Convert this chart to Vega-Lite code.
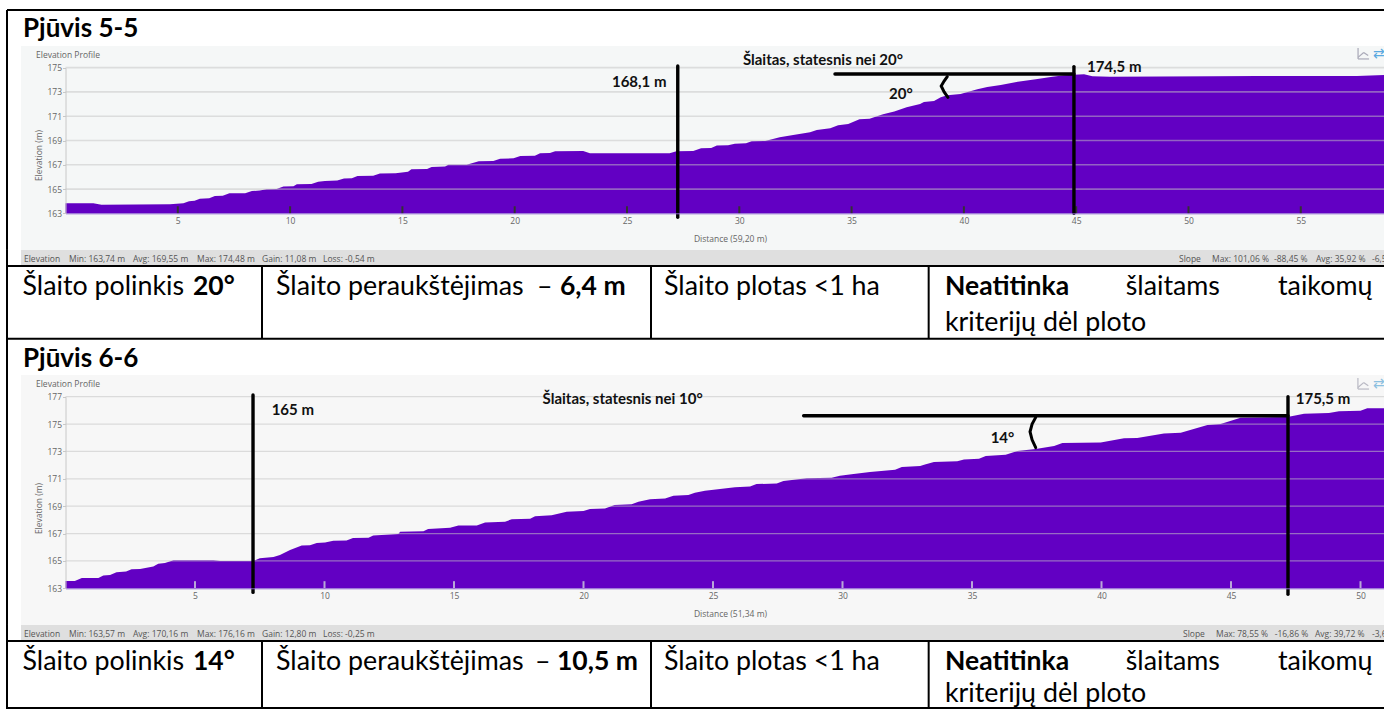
{
"$schema":"https://vega.github.io/schema/vega-lite/v6.json",
"background":"white","padding":0,"spacing":0,"bounds":"flush",
"config":{"view":{"stroke":null},"text":{"font":"Lato"},"axis":{"labelFont":"Open Sans","titleFont":"Open Sans"}},
"datasets":{
"profile1":[{"d":0,"e":163.82},{"d":1.24,"e":163.82},{"d":1.6,"e":163.7},{"d":4.65,"e":163.74},{"d":5.25,"e":163.82},{"d":5.5,"e":164.0},{"d":5.75,"e":164.04},{"d":5.98,"e":164.2},{"d":6.4,"e":164.24},{"d":6.65,"e":164.43},{"d":7.0,"e":164.45},{"d":7.3,"e":164.65},{"d":8.0,"e":164.65},{"d":8.3,"e":164.84},{"d":8.65,"e":164.87},{"d":8.95,"e":164.98},{"d":9.4,"e":165.0},{"d":9.7,"e":165.2},{"d":10.15,"e":165.23},{"d":10.3,"e":165.4},{"d":10.95,"e":165.42},{"d":11.25,"e":165.6},{"d":11.55,"e":165.67},{"d":12.1,"e":165.7},{"d":12.4,"e":165.86},{"d":12.75,"e":165.88},{"d":13.0,"e":166.08},{"d":13.7,"e":166.1},{"d":14.0,"e":166.27},{"d":14.7,"e":166.3},{"d":15.25,"e":166.43},{"d":15.4,"e":166.63},{"d":16.1,"e":166.65},{"d":16.3,"e":166.82},{"d":16.9,"e":166.85},{"d":17.05,"e":167.0},{"d":17.86,"e":167.01},{"d":18.4,"e":167.29},{"d":19.05,"e":167.31},{"d":19.35,"e":167.5},{"d":19.95,"e":167.53},{"d":20.25,"e":167.73},{"d":20.9,"e":167.75},{"d":21.13,"e":167.95},{"d":21.57,"e":167.97},{"d":21.8,"e":168.11},{"d":23.05,"e":168.14},{"d":23.35,"e":167.95},{"d":26.9,"e":167.95},{"d":27.2,"e":168.11},{"d":27.95,"e":168.14},{"d":28.3,"e":168.36},{"d":28.75,"e":168.38},{"d":29.0,"e":168.58},{"d":29.5,"e":168.6},{"d":29.8,"e":168.74},{"d":30.3,"e":168.77},{"d":30.55,"e":168.93},{"d":31.15,"e":168.96},{"d":31.8,"e":169.26},{"d":32.4,"e":169.46},{"d":33.15,"e":169.68},{"d":33.45,"e":169.87},{"d":34.05,"e":170.0},{"d":34.4,"e":170.25},{"d":34.85,"e":170.36},{"d":35.35,"e":170.75},{"d":35.8,"e":170.8},{"d":36.4,"e":171.16},{"d":36.9,"e":171.38},{"d":37.45,"e":171.74},{"d":38.05,"e":172.0},{"d":38.22,"e":172.18},{"d":38.67,"e":172.26},{"d":38.97,"e":172.56},{"d":39.26,"e":172.73},{"d":39.85,"e":172.84},{"d":40.6,"e":173.22},{"d":41.04,"e":173.41},{"d":41.64,"e":173.58},{"d":42.4,"e":173.85},{"d":43.2,"e":174.04},{"d":43.94,"e":174.26},{"d":44.46,"e":174.37},{"d":45.35,"e":174.45},{"d":45.72,"e":174.29},{"d":46.5,"e":174.26},{"d":51.1,"e":174.29},{"d":53.06,"e":174.32},{"d":57.5,"e":174.32},{"d":58.705,"e":174.4}],
"profile2":[{"d":0,"e":163.54},{"d":0.36,"e":163.54},{"d":0.63,"e":163.75},{"d":1.27,"e":163.75},{"d":1.46,"e":163.93},{"d":1.72,"e":163.97},{"d":1.97,"e":164.17},{"d":2.34,"e":164.22},{"d":2.55,"e":164.39},{"d":2.88,"e":164.41},{"d":3.39,"e":164.6},{"d":3.58,"e":164.8},{"d":3.84,"e":164.85},{"d":4.17,"e":165.05},{"d":5.71,"e":165.05},{"d":5.97,"e":165.0},{"d":7.25,"e":165.0},{"d":7.5,"e":165.19},{"d":8.03,"e":165.29},{"d":8.28,"e":165.43},{"d":8.67,"e":165.8},{"d":9.12,"e":166.12},{"d":9.44,"e":166.14},{"d":9.7,"e":166.31},{"d":10.02,"e":166.34},{"d":10.34,"e":166.48},{"d":10.85,"e":166.5},{"d":11.1,"e":166.68},{"d":11.7,"e":166.7},{"d":11.88,"e":166.85},{"d":12.85,"e":166.97},{"d":12.92,"e":167.14},{"d":13.82,"e":167.16},{"d":14.0,"e":167.33},{"d":14.85,"e":167.43},{"d":15.17,"e":167.58},{"d":15.88,"e":167.58},{"d":16.2,"e":167.8},{"d":16.97,"e":167.87},{"d":17.23,"e":168.04},{"d":17.94,"e":168.09},{"d":18.13,"e":168.26},{"d":18.77,"e":168.33},{"d":19.35,"e":168.6},{"d":20.0,"e":168.65},{"d":20.25,"e":168.8},{"d":20.83,"e":168.84},{"d":21.2,"e":169.09},{"d":21.86,"e":169.14},{"d":22.12,"e":169.33},{"d":22.57,"e":169.5},{"d":23.15,"e":169.57},{"d":23.47,"e":169.77},{"d":24.05,"e":169.82},{"d":24.3,"e":169.99},{"d":24.69,"e":170.13},{"d":25.27,"e":170.26},{"d":25.85,"e":170.38},{"d":26.43,"e":170.43},{"d":26.68,"e":170.62},{"d":27.46,"e":170.65},{"d":27.72,"e":170.84},{"d":28.62,"e":171.04},{"d":29.58,"e":171.08},{"d":29.9,"e":171.23},{"d":30.35,"e":171.33},{"d":31.06,"e":171.5},{"d":32.03,"e":171.67},{"d":32.29,"e":171.86},{"d":33.0,"e":171.94},{"d":33.15,"e":172.03},{"d":33.53,"e":172.23},{"d":34.43,"e":172.28},{"d":34.69,"e":172.42},{"d":35.27,"e":172.47},{"d":35.53,"e":172.67},{"d":36.3,"e":172.76},{"d":36.75,"e":173.03},{"d":37.46,"e":173.18},{"d":38.17,"e":173.4},{"d":38.49,"e":173.62},{"d":39.97,"e":173.66},{"d":40.87,"e":173.96},{"d":41.38,"e":173.98},{"d":42.41,"e":174.32},{"d":43.06,"e":174.37},{"d":44.09,"e":174.93},{"d":44.6,"e":175.0},{"d":45.37,"e":175.47},{"d":47.17,"e":175.52},{"d":47.43,"e":175.61},{"d":47.82,"e":175.76},{"d":48.78,"e":175.81},{"d":49.17,"e":175.93},{"d":50.0,"e":175.98},{"d":50.26,"e":176.15},{"d":50.907,"e":176.15}]
},
"vconcat":[
{"width":1384,"height":46,
 "encoding":{"x":{"field":"x","type":"quantitative","axis":null,"scale":{"domain":[0,1038],"range":[0,1384],"nice":false}},
  "y":{"field":"y","type":"quantitative","axis":null,"scale":{"domain":[0,34.5],"range":[0,46],"nice":false}}},
 "layer":[
  {"data":{"values":[{"x":5.25,"x2":1038,"y":7.5,"y2":7.5},{"x":5.25,"x2":5.25,"y":7.5,"y2":34.5}]},"mark":{"type":"rule","strokeWidth":2,"color":"#000"},"encoding":{"x2":{"field":"x2"},"y2":{"field":"y2"}}},
  {"data":{"values":[{"x":17.25,"y":28,"t":"Pjūvis 5-5"}]},"mark":{"type":"text","align":"left","baseline":"alphabetic","fontWeight":"bold","fontSize":26,"color":"#000"},"encoding":{"text":{"field":"t"}}}
 ]},
{"width":1384,"height":204,
 "encoding":{"x":{"field":"d","type":"quantitative","title":"Distance (59,20 m)","scale":{"domain":[0,58.705],"range":[65.5,1384],"nice":false,"zero":false},
   "axis":{"orient":"bottom","offset":-36.7,"values":[5,10,15,20,25,30,35,40,45,50,55],"grid":false,"zindex":1,"domainColor":"#8a5fd0","ticks":false,"labelPadding":3,"labelColor":"#666","labelFontSize":8.5,"format":"d","titleFontSize":8.5,"titleFontWeight":"normal","titleColor":"#666","titleX":730,"titleY":21,"titleAlign":"center"}},
  "y":{"field":"e","type":"quantitative","title":"Elevation (m)","scale":{"domain":[163,175],"range":[167.3,21.7],"nice":false,"zero":false},
   "axis":{"orient":"left","offset":-65.5,"values":[163,165,167,169,171,173,175],"grid":false,"zindex":1,"domainColor":"#c8c8c8","tickColor":"#c8c8c8","tickSize":3,"labelPadding":1,"labelColor":"#666","labelFontSize":8.5,"format":"d","titleFontSize":8.5,"titleFontWeight":"normal","titleColor":"#666","titlePadding":3,"titleY":109}}},
 "layer":[
  {"data":{"values":[{"d":-1.98,"d2":58.705,"e":159.98,"e2":176.79}]},"mark":{"type":"rect","color":"#f5f7f7"},"encoding":{"x2":{"field":"d2"},"y2":{"field":"e2"}}},
  {"data":{"name":"profile1"},"mark":{"type":"area","color":"#6200c3","interpolate":"linear"},"encoding":{"y2":{"datum":163}}},
  {"data":{"values":[{"d":0,"d2":58.705,"e":165,"e2":165},{"d":0,"d2":58.705,"e":167,"e2":167},{"d":0,"d2":58.705,"e":169,"e2":169},{"d":0,"d2":58.705,"e":171,"e2":171},{"d":0,"d2":58.705,"e":173,"e2":173},{"d":0,"d2":58.705,"e":175,"e2":175}]},"mark":{"type":"rule","color":"#c4c4c4","opacity":0.5,"strokeWidth":1.7},"encoding":{"x2":{"field":"d2"},"y2":{"field":"e2"}}},
  {"data":{"values":[{"d":5,"d2":5,"e":163,"e2":163.58},{"d":10,"d2":10,"e":163,"e2":163.58},{"d":15,"d2":15,"e":163,"e2":163.58},{"d":20,"d2":20,"e":163,"e2":163.58},{"d":25,"d2":25,"e":163,"e2":163.58},{"d":30,"d2":30,"e":163,"e2":163.58},{"d":35,"d2":35,"e":163,"e2":163.58},{"d":40,"d2":40,"e":163,"e2":163.58},{"d":45,"d2":45,"e":163,"e2":163.58},{"d":50,"d2":50,"e":163,"e2":163.58},{"d":55,"d2":55,"e":163,"e2":163.58}]},"mark":{"type":"rule","color":"#333","strokeWidth":2},"encoding":{"x2":{"field":"d2"},"y2":{"field":"e2"}}},
  {"data":{"values":[{"d":27.26,"d2":27.26,"e":175.14,"e2":162.67},{"d":44.9,"d2":44.9,"e":175.09,"e2":163},{"d":34.26,"d2":44.9,"e":174.48,"e2":174.48}]},"mark":{"type":"rule","color":"#000","strokeWidth":3.4,"strokeCap":"round"},"encoding":{"x2":{"field":"d2"},"y2":{"field":"e2"}}},
  {"data":{"values":[{"i":1,"d":39.26,"e":174.26},{"i":2,"d":39.12,"e":173.9},{"i":3,"d":38.99,"e":173.49},{"i":4,"d":39.12,"e":173.0},{"i":5,"d":39.29,"e":172.56}]},"mark":{"type":"line","color":"#000","strokeWidth":3,"strokeCap":"round"},"encoding":{"order":{"field":"i","type":"quantitative"}}},
  {"data":{"values":[{"d":24.33,"e":173.85,"t":"168,1 m"},{"d":30.16,"e":175.64,"t":"Šlaitas, statesnis nei 20°"},{"d":36.67,"e":172.8,"t":"20°"},{"d":45.48,"e":175.09,"t":"174,5 m"}]},"mark":{"type":"text","align":"left","baseline":"middle","fontWeight":"bold","fontSize":15,"color":"#111"},"encoding":{"text":{"field":"t"}}},
  {"data":{"values":[{"d":-1.313,"e":176.05,"t":"Elevation Profile"}]},"mark":{"type":"text","align":"left","baseline":"middle","font":"Open Sans","fontSize":8.5,"color":"#666"},"encoding":{"text":{"field":"t"}}},
  {"data":{"values":[{"d":57.55,"d2":57.55,"e":176.63,"e2":175.72},{"d":57.55,"d2":58.04,"e":175.72,"e2":175.72},{"d":57.55,"d2":57.8,"e":175.85,"e2":176.25},{"d":57.8,"d2":58.0,"e":176.25,"e2":176.0}]},"mark":{"type":"rule","color":"#a9a9b8","strokeWidth":1.2},"encoding":{"x2":{"field":"d2"},"y2":{"field":"e2"}}},
  {"data":{"values":[{"d":58.22,"e":176.13,"t":"⇄"}]},"mark":{"type":"text","align":"left","baseline":"middle","font":"DejaVu Sans","fontSize":14,"color":"#5aa9e0"},"encoding":{"text":{"field":"t"}}},
  {"data":{"values":[{"d":-2.605,"d2":-2.605,"e":159.98,"e2":176.79}]},"mark":{"type":"rule","color":"#000","strokeWidth":2},"encoding":{"x2":{"field":"d2"},"y2":{"field":"e2"}}}
 ]},
{"width":1384,"height":125,
 "encoding":{"x":{"field":"x","type":"quantitative","axis":null,"scale":{"domain":[0,1038],"range":[0,1384],"nice":false}},
  "y":{"field":"y","type":"quantitative","axis":null,"scale":{"domain":[0,93.75],"range":[0,125],"nice":false}}},
 "layer":[
  {"data":{"values":[{"x":15.75,"x2":1038,"y":0,"y2":12}]},"mark":{"type":"rect","color":"#dfdfdf"},"encoding":{"x2":{"field":"x2"},"y2":{"field":"y2"}}},
  {"data":{"values":[{"x":5.25,"x2":5.25,"y":0,"y2":93.75},{"x":5.25,"x2":1038,"y":12,"y2":12},{"x":5.25,"x2":1038,"y":66.5,"y2":66.5},{"x":196.5,"x2":196.5,"y":12,"y2":66.5},{"x":488.25,"x2":488.25,"y":12,"y2":66.5},{"x":696.5,"x2":696.5,"y":12,"y2":66.5}]},"mark":{"type":"rule","color":"#000","strokeWidth":2},"encoding":{"x2":{"field":"x2"},"y2":{"field":"y2"}}},
  {"data":{"values":[{"x":18,"y":6.75,"t":"Elevation"},{"x":51.75,"y":6.75,"t":"Min: 163,74 m"},{"x":99.75,"y":6.75,"t":"Avg: 169,55 m"},{"x":147.75,"y":6.75,"t":"Max: 174,48 m"},{"x":196.5,"y":6.75,"t":"Gain: 11,08 m"},{"x":242.25,"y":6.75,"t":"Loss: -0,54 m"},{"x":884.25,"y":6.75,"t":"Slope"},{"x":909,"y":6.75,"t":"Max: 101,06 %"},{"x":955.5,"y":6.75,"t":"-88,45 %"},{"x":987,"y":6.75,"t":"Avg: 35,92 %"},{"x":1029,"y":6.75,"t":"-6,5"}]},"mark":{"type":"text","align":"left","baseline":"middle","font":"Open Sans","fontSize":8.5,"color":"#555"},"encoding":{"text":{"field":"t"}}},
  {"data":{"values":[{"x":16.9,"y":33.75,"t":"Šlaito polinkis"},{"x":207,"y":33.75,"t":"Šlaito peraukštėjimas"},{"x":402.75,"y":33.75,"t":"–"},{"x":498,"y":33.75,"t":"Šlaito plotas <1 ha"},{"x":844.3,"y":33.75,"t":"šlaitams"},{"x":958.5,"y":33.75,"t":"taikomų"},{"x":708.75,"y":60.5,"t":"kriterijų dėl ploto"}]},"mark":{"type":"text","align":"left","baseline":"alphabetic","fontSize":26.8,"color":"#000"},"encoding":{"text":{"field":"t"}}},
  {"data":{"values":[{"x":144.75,"y":33.75,"t":"20°"},{"x":420,"y":33.75,"t":"6,4 m"},{"x":708.75,"y":33.75,"t":"Neatitinka"}]},"mark":{"type":"text","align":"left","baseline":"alphabetic","fontWeight":"bold","fontSize":26.5,"color":"#000"},"encoding":{"text":{"field":"t"}}},
  {"data":{"values":[{"x":17.25,"y":87.75,"t":"Pjūvis 6-6"}]},"mark":{"type":"text","align":"left","baseline":"alphabetic","fontWeight":"bold","fontSize":26,"color":"#000"},"encoding":{"text":{"field":"t"}}}
 ]},
{"width":1384,"height":250,
 "encoding":{"x":{"field":"d","type":"quantitative","title":"Distance (51,34 m)","scale":{"domain":[0,50.907],"range":[65.5,1384],"nice":false,"zero":false},
   "axis":{"orient":"bottom","offset":-36.7,"values":[5,10,15,20,25,30,35,40,45,50],"grid":false,"zindex":1,"domainColor":"#8a5fd0","ticks":false,"labelPadding":3,"labelColor":"#666","labelFontSize":8.5,"format":"d","titleFontSize":8.5,"titleFontWeight":"normal","titleColor":"#666","titleX":730,"titleY":21,"titleAlign":"center"}},
  "y":{"field":"e","type":"quantitative","title":"Elevation (m)","scale":{"domain":[163,177],"range":[213.3,21.7],"nice":false,"zero":false},
   "axis":{"orient":"left","offset":-65.5,"values":[163,165,167,169,171,173,175,177],"grid":false,"zindex":1,"domainColor":"#c8c8c8","tickColor":"#c8c8c8","tickSize":3,"labelPadding":1,"labelColor":"#666","labelFontSize":8.5,"format":"d","titleFontSize":8.5,"titleFontWeight":"normal","titleColor":"#666","titlePadding":3,"titleY":133}}},
 "layer":[
  {"data":{"values":[{"d":-1.718,"d2":50.907,"e":160.32,"e2":178.585}]},"mark":{"type":"rect","color":"#f7f7f7"},"encoding":{"x2":{"field":"d2"},"y2":{"field":"e2"}}},
  {"data":{"name":"profile2"},"mark":{"type":"area","color":"#6200c3","interpolate":"linear"},"encoding":{"y2":{"datum":163}}},
  {"data":{"values":[{"d":0,"d2":50.907,"e":165,"e2":165},{"d":0,"d2":50.907,"e":167,"e2":167},{"d":0,"d2":50.907,"e":169,"e2":169},{"d":0,"d2":50.907,"e":171,"e2":171},{"d":0,"d2":50.907,"e":173,"e2":173},{"d":0,"d2":50.907,"e":175,"e2":175},{"d":0,"d2":50.907,"e":177,"e2":177}]},"mark":{"type":"rule","color":"#c4c4c4","opacity":0.55,"strokeWidth":1.2},"encoding":{"x2":{"field":"d2"},"y2":{"field":"e2"}}},
  {"data":{"values":[{"d":5,"d2":5,"e":163,"e2":163.52},{"d":10,"d2":10,"e":163,"e2":163.52},{"d":15,"d2":15,"e":163,"e2":163.52},{"d":20,"d2":20,"e":163,"e2":163.52},{"d":25,"d2":25,"e":163,"e2":163.52},{"d":30,"d2":30,"e":163,"e2":163.52},{"d":35,"d2":35,"e":163,"e2":163.52},{"d":40,"d2":40,"e":163,"e2":163.52},{"d":45,"d2":45,"e":163,"e2":163.52},{"d":50,"d2":50,"e":163,"e2":163.52}]},"mark":{"type":"rule","color":"#b9a6d8","strokeWidth":2},"encoding":{"x2":{"field":"d2"},"y2":{"field":"e2"}}},
  {"data":{"values":[{"d":7.24,"d2":7.24,"e":177.12,"e2":162.7},{"d":47.2,"d2":47.2,"e":177,"e2":162.56},{"d":28.5,"d2":47.2,"e":175.61,"e2":175.61}]},"mark":{"type":"rule","color":"#000","strokeWidth":3.4,"strokeCap":"round"},"encoding":{"x2":{"field":"d2"},"y2":{"field":"e2"}}},
  {"data":{"values":[{"i":1,"d":37.46,"e":175.49},{"i":2,"d":37.32,"e":175.0},{"i":3,"d":37.24,"e":174.44},{"i":4,"d":37.32,"e":173.85},{"i":5,"d":37.46,"e":173.28}]},"mark":{"type":"line","color":"#000","strokeWidth":3,"strokeCap":"round"},"encoding":{"order":{"field":"i","type":"quantitative"}}},
  {"data":{"values":[{"d":7.96,"e":176.03,"t":"165 m"},{"d":18.42,"e":176.83,"t":"Šlaitas, statesnis nei 10°"},{"d":35.72,"e":174.0,"t":"14°"},{"d":47.5,"e":176.83,"t":"175,5 m"}]},"mark":{"type":"text","align":"left","baseline":"middle","fontWeight":"bold","fontSize":15,"color":"#111"},"encoding":{"text":{"field":"t"}}},
  {"data":{"values":[{"d":-1.139,"e":177.9,"t":"Elevation Profile"}]},"mark":{"type":"text","align":"left","baseline":"middle","font":"Open Sans","fontSize":8.5,"color":"#666"},"encoding":{"text":{"field":"t"}}},
  {"data":{"values":[{"d":49.9,"d2":49.9,"e":178.37,"e2":177.56},{"d":49.9,"d2":50.33,"e":177.56,"e2":177.56},{"d":49.9,"d2":50.12,"e":177.67,"e2":178.03},{"d":50.12,"d2":50.3,"e":178.03,"e2":177.8}]},"mark":{"type":"rule","color":"#b9b9c4","strokeWidth":1.2},"encoding":{"x2":{"field":"d2"},"y2":{"field":"e2"}}},
  {"data":{"values":[{"d":50.48,"e":177.96,"t":"⇄"}]},"mark":{"type":"text","align":"left","baseline":"middle","font":"DejaVu Sans","fontSize":14,"color":"#8cc0e0"},"encoding":{"text":{"field":"t"}}},
  {"data":{"values":[{"d":-2.259,"d2":-2.259,"e":160.32,"e2":178.585}]},"mark":{"type":"rule","color":"#000","strokeWidth":2},"encoding":{"x2":{"field":"d2"},"y2":{"field":"e2"}}}
 ]},
{"width":1384,"height":84,
 "encoding":{"x":{"field":"x","type":"quantitative","axis":null,"scale":{"domain":[0,1038],"range":[0,1384],"nice":false}},
  "y":{"field":"y","type":"quantitative","axis":null,"scale":{"domain":[0,63],"range":[0,84],"nice":false}}},
 "layer":[
  {"data":{"values":[{"x":15.75,"x2":1038,"y":0,"y2":12}]},"mark":{"type":"rect","color":"#dfdfdf"},"encoding":{"x2":{"field":"x2"},"y2":{"field":"y2"}}},
  {"data":{"values":[{"x":5.25,"x2":5.25,"y":0,"y2":63},{"x":5.25,"x2":1038,"y":12,"y2":12},{"x":5.25,"x2":1038,"y":62.25,"y2":62.25},{"x":196.5,"x2":196.5,"y":12,"y2":63},{"x":488.25,"x2":488.25,"y":12,"y2":63},{"x":696.5,"x2":696.5,"y":12,"y2":63}]},"mark":{"type":"rule","color":"#000","strokeWidth":2},"encoding":{"x2":{"field":"x2"},"y2":{"field":"y2"}}},
  {"data":{"values":[{"x":18,"y":6.75,"t":"Elevation"},{"x":51.75,"y":6.75,"t":"Min: 163,57 m"},{"x":99.75,"y":6.75,"t":"Avg: 170,16 m"},{"x":147.75,"y":6.75,"t":"Max: 176,16 m"},{"x":196.5,"y":6.75,"t":"Gain: 12,80 m"},{"x":242.25,"y":6.75,"t":"Loss: -0,25 m"},{"x":887.25,"y":6.75,"t":"Slope"},{"x":912,"y":6.75,"t":"Max: 78,55 %"},{"x":956,"y":6.75,"t":"-16,86 %"},{"x":986.25,"y":6.75,"t":"Avg: 39,72 %"},{"x":1029,"y":6.75,"t":"-3,6"}]},"mark":{"type":"text","align":"left","baseline":"middle","font":"Open Sans","fontSize":8.5,"color":"#555"},"encoding":{"text":{"field":"t"}}},
  {"data":{"values":[{"x":16.9,"y":33.75,"t":"Šlaito polinkis"},{"x":207,"y":33.75,"t":"Šlaito peraukštėjimas"},{"x":401.25,"y":33.75,"t":"–"},{"x":498,"y":33.75,"t":"Šlaito plotas <1 ha"},{"x":844.3,"y":33.75,"t":"šlaitams"},{"x":958.5,"y":33.75,"t":"taikomų"},{"x":708.75,"y":57.75,"t":"kriterijų dėl ploto"}]},"mark":{"type":"text","align":"left","baseline":"alphabetic","fontSize":26.8,"color":"#000"},"encoding":{"text":{"field":"t"}}},
  {"data":{"values":[{"x":144.75,"y":33.75,"t":"14°"},{"x":417.75,"y":33.75,"t":"10,5 m"},{"x":708.75,"y":33.75,"t":"Neatitinka"}]},"mark":{"type":"text","align":"left","baseline":"alphabetic","fontWeight":"bold","fontSize":26.5,"color":"#000"},"encoding":{"text":{"field":"t"}}}
 ]}
]
}
